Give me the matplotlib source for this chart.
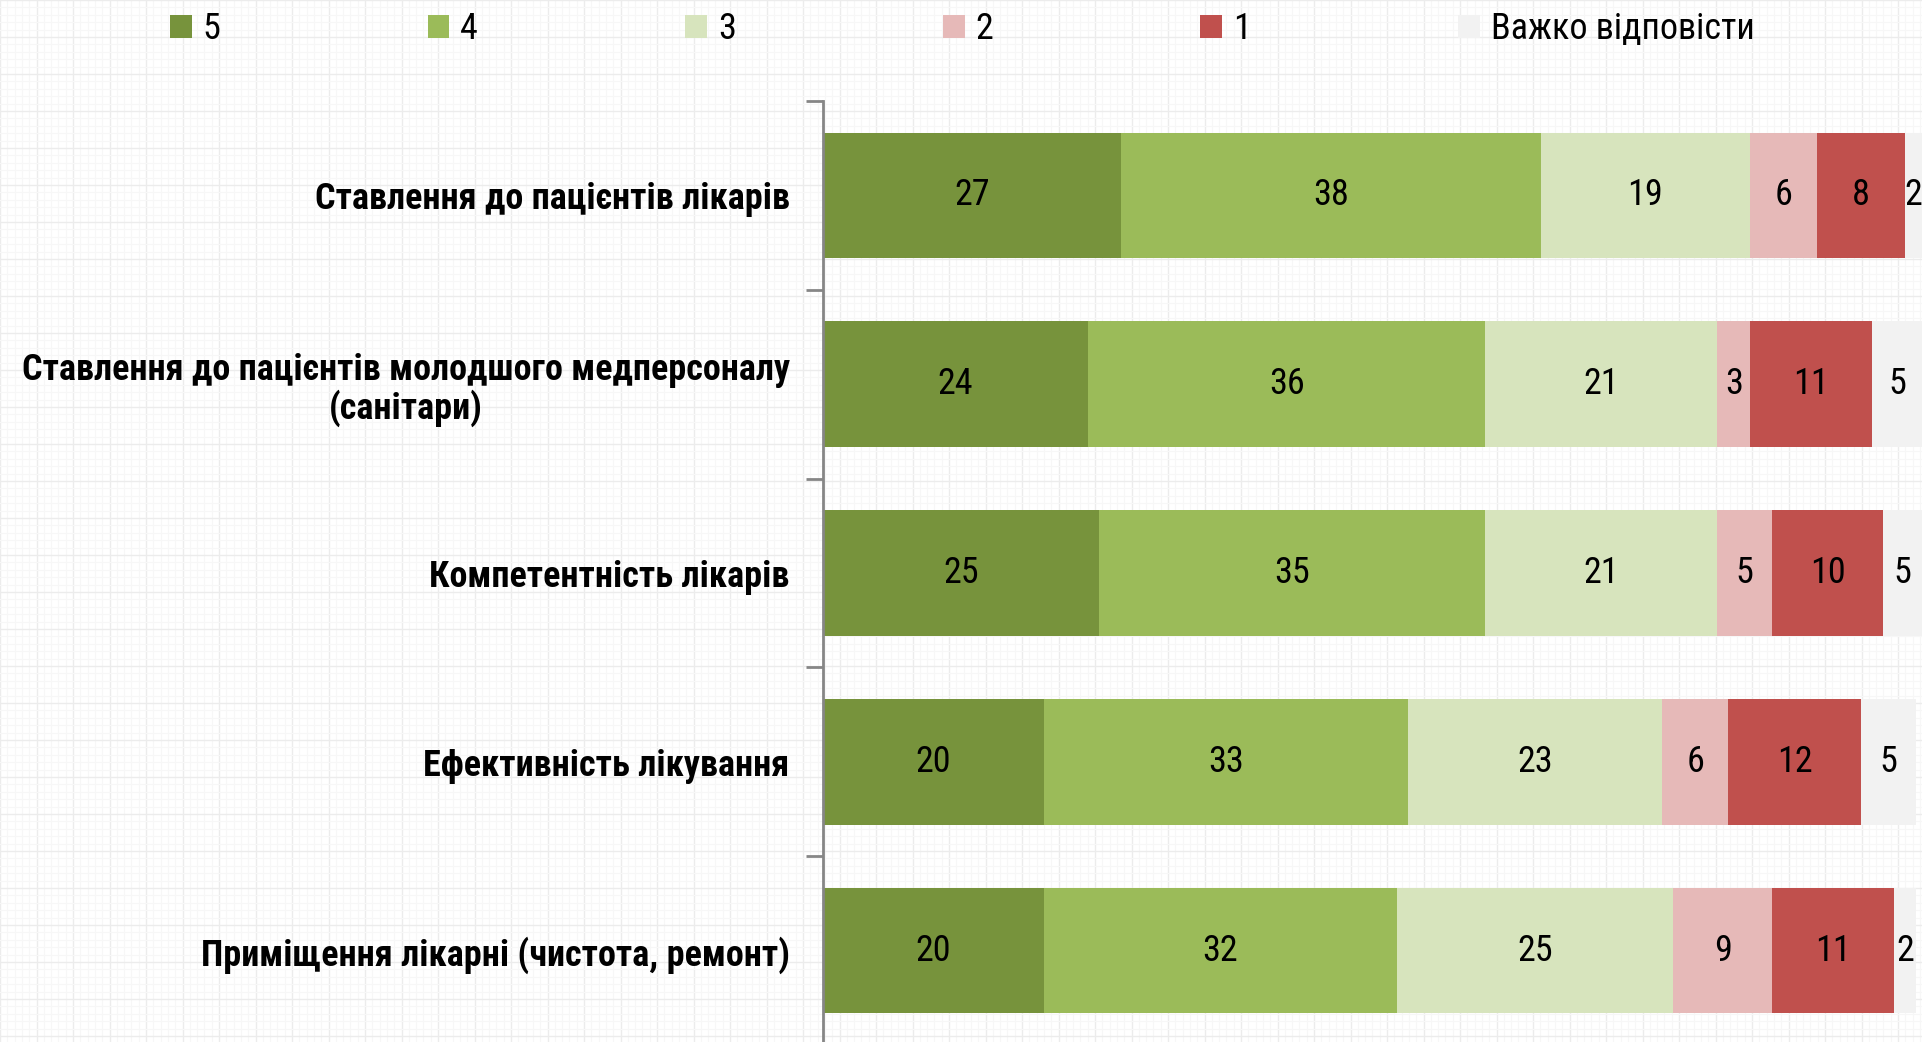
import matplotlib
matplotlib.use("Agg")
import matplotlib.pyplot as plt
from matplotlib.patches import Patch
import numpy as np

plt.rcParams['font.family'] = ['Roboto Condensed', 'Liberation Sans', 'DejaVu Sans']

categories = [
    "Ставлення до пацієнтів лікарів",
    "Ставлення до пацієнтів молодшого медперсоналу\n(санітари)",
    "Компетентність лікарів",
    "Ефективність лікування",
    "Приміщення лікарні (чистота, ремонт)",
]
series_names = ["5", "4", "3", "2", "1", "Важко відповісти"]
s5 = [27, 24, 25, 20, 20]
s4 = [38, 36, 35, 33, 32]
s3 = [19, 21, 21, 23, 25]
s2 = [6, 3, 5, 6, 9]
s1 = [8, 11, 10, 12, 11]
hard = [2, 5, 5, 5, 2]
series = [s5, s4, s3, s2, s1, hard]
colors = ["#77933C", "#9BBB59", "#D7E4BD", "#E6B9B8", "#C0504D", "#F2F2F2"]

W, H = 1922, 1042
fig = plt.figure(figsize=(W / 100, H / 100), dpi=100)
fig.patch.set_facecolor("white")

# graph-paper background
bg = fig.add_axes([0, 0, 1, 1], zorder=-5)
bg.set_xlim(0, W)
bg.set_ylim(H, 0)
bg.set_xticks(np.arange(0, W, 36.5))
bg.set_yticks(np.arange(0, H, 37))
bg.set_xticks(np.arange(0, W, 7.3), minor=True)
bg.set_yticks(np.arange(0, H, 7.4), minor=True)
bg.grid(True, which="major", color="#ececec", lw=1.0)
bg.grid(True, which="minor", color="#f7f7f7", lw=0.8)
bg.tick_params(which="both", length=0, labelbottom=False, labelleft=False)
for sp in bg.spines.values():
    sp.set_visible(False)
bg.set_facecolor("white")

ax_left = 823 / W
ax_right = 1927 / W
ax_top = 1 - 101 / H
ax_bot = 1 - 1045 / H
ax = fig.add_axes([ax_left, ax_bot, ax_right - ax_left, ax_top - ax_bot])
ax.patch.set_alpha(0)

FS = 26
xmax = 100
ax.set_xlim(0, xmax)
n = len(categories)
y = np.arange(n)
ax.set_ylim(n - 0.5, -0.5)

vis_max = xmax * (W - 823) / (1927 - 823)
left = np.zeros(n)
for vals, col, name in zip(series, colors, series_names):
    vals = np.array(vals, dtype=float)
    ax.barh(y, vals, left=left, height=0.665, color=col, label=name, zorder=2)
    for yi, l, v in zip(y, left, vals):
        a = min(l, vis_max)
        b = min(l + v, vis_max)
        ax.text((a + b) / 2, yi, f"{int(v)}", ha="center", va="center",
                fontsize=FS, color="black", zorder=3)
    left = left + vals

for sp in ["top", "right", "bottom"]:
    ax.spines[sp].set_visible(False)
ax.spines["left"].set_color("#868686")
ax.spines["left"].set_linewidth(2)
ax.set_xticks([])
ax.set_yticks(y)
ax.set_yticklabels(categories, fontsize=FS, fontweight="bold", multialignment="center",
                   linespacing=1.05)
ax.tick_params(axis="y", which="major", length=0, pad=24)
ax.set_yticks(np.arange(-0.5, n + 0.5, 1), minor=True)
ax.tick_params(axis="y", which="minor", length=12, width=2, color="#868686", direction="out")

handles = [Patch(facecolor=c, edgecolor="none") for c in colors]
fig.legend(handles, series_names, loc="center left",
           bbox_to_anchor=(170 / W, 1 - 29 / H), ncol=6, frameon=False,
           fontsize=FS, handlelength=0.6, handleheight=0.6, handletextpad=0.3,
           columnspacing=5.74, borderpad=0, borderaxespad=0)

fig.savefig("out.png", dpi=100, facecolor="white")
